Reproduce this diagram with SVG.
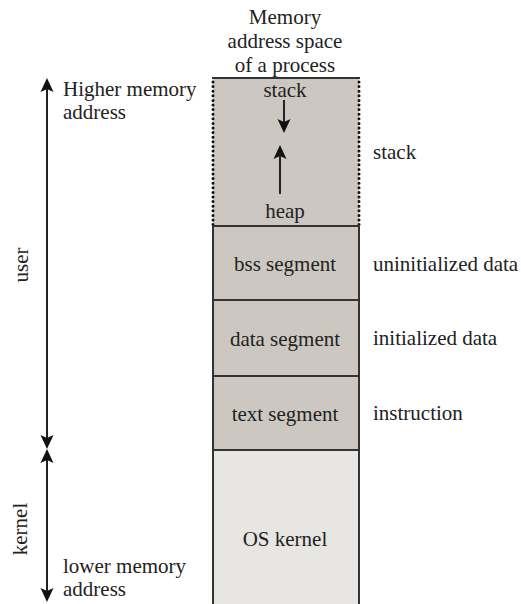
<svg xmlns="http://www.w3.org/2000/svg" width="521" height="604" viewBox="0 0 521 604">
  <style>
    text { font-family: 'Liberation Serif', 'DejaVu Serif', serif; font-size: 21px; fill: #222; }
    .mid { text-anchor: middle; }
    .seg { fill: #ccc8c1; }
    .kern { fill: #e8e6e2; }
    .edge { stroke: #333; stroke-width: 2; fill: none; }
    .dot { stroke: #111; stroke-width: 3; stroke-linecap: round; stroke-dasharray: 0 4.6; fill: none; }
    .arr { stroke: #222; stroke-width: 2; fill: none; }
  </style>
  <defs>
    <marker id="ah" markerUnits="userSpaceOnUse" markerWidth="14" markerHeight="14" viewBox="0 0 14 14" refX="11" refY="7" orient="auto-start-reverse">
      <path d="M0,0.5 L14,7 L0,13.5 L3,7 z" fill="#111"/>
    </marker>
  </defs>
  <rect width="521" height="604" fill="#fff"/>

  <g font-family="Liberation Serif, serif">
  <text class="mid" x="285" y="24">Memory</text>
  <text class="mid" x="285" y="48">address space</text>
  <text class="mid" x="285" y="72">of a process</text>

  <g id="stack-region">
    <rect class="seg" x="213" y="78" width="146" height="148"/>
    <line class="edge" x1="212" y1="78" x2="360" y2="78"/>
    <line class="dot" x1="213" y1="82" x2="213" y2="226"/>
    <line class="dot" x1="359" y1="82" x2="359" y2="226"/>
    <text class="mid" x="285" y="97">stack</text>
    <text class="mid" x="285" y="218">heap</text>
  </g>
  <g id="bss">
    <rect class="seg" x="213" y="226" width="146" height="74"/>
    <text class="mid" x="285" y="271">bss segment</text>
  </g>
  <g id="data">
    <rect class="seg" x="213" y="300" width="146" height="76"/>
    <text class="mid" x="285" y="346">data segment</text>
  </g>
  <g id="text">
    <rect class="seg" x="213" y="376" width="146" height="74"/>
    <text class="mid" x="285" y="421">text segment</text>
  </g>
  <g id="kernel">
    <rect class="kern" x="213" y="450" width="146" height="156"/>
    <text class="mid" x="285" y="546">OS kernel</text>
  </g>
  <g id="outlines">
    <line class="edge" x1="213" y1="226" x2="213" y2="604"/>
    <line class="edge" x1="359" y1="226" x2="359" y2="604"/>
    <line class="edge" x1="212" y1="226" x2="360" y2="226"/>
    <line class="edge" x1="212" y1="300" x2="360" y2="300"/>
    <line class="edge" x1="212" y1="376" x2="360" y2="376"/>
    <line class="edge" x1="212" y1="450" x2="360" y2="450"/>
  </g>

  <g id="labels">
    <text x="373" y="159">stack</text>
    <text x="373" y="271">uninitialized data</text>
    <text x="373" y="345">initialized data</text>
    <text x="373" y="420">instruction</text>
    <text x="63" y="96">Higher memory</text>
    <text x="63" y="119">address</text>
    <text x="63" y="573">lower memory</text>
    <text x="63" y="596">address</text>
    <text class="mid" transform="translate(28,265) rotate(-90)">user</text>
    <text class="mid" transform="translate(27,529) rotate(-90)">kernel</text>
  </g>
  </g>

  <g id="connectors">
    <line class="arr" x1="47" y1="81" x2="47" y2="446" marker-start="url(#ah)" marker-end="url(#ah)"/>
    <line class="arr" x1="47" y1="452" x2="47" y2="599" marker-start="url(#ah)" marker-end="url(#ah)"/>
    <line class="arr" x1="284" y1="100" x2="284" y2="130" marker-end="url(#ah)"/>
    <line class="arr" x1="280" y1="194" x2="280" y2="148" marker-end="url(#ah)"/>
  </g>
</svg>
